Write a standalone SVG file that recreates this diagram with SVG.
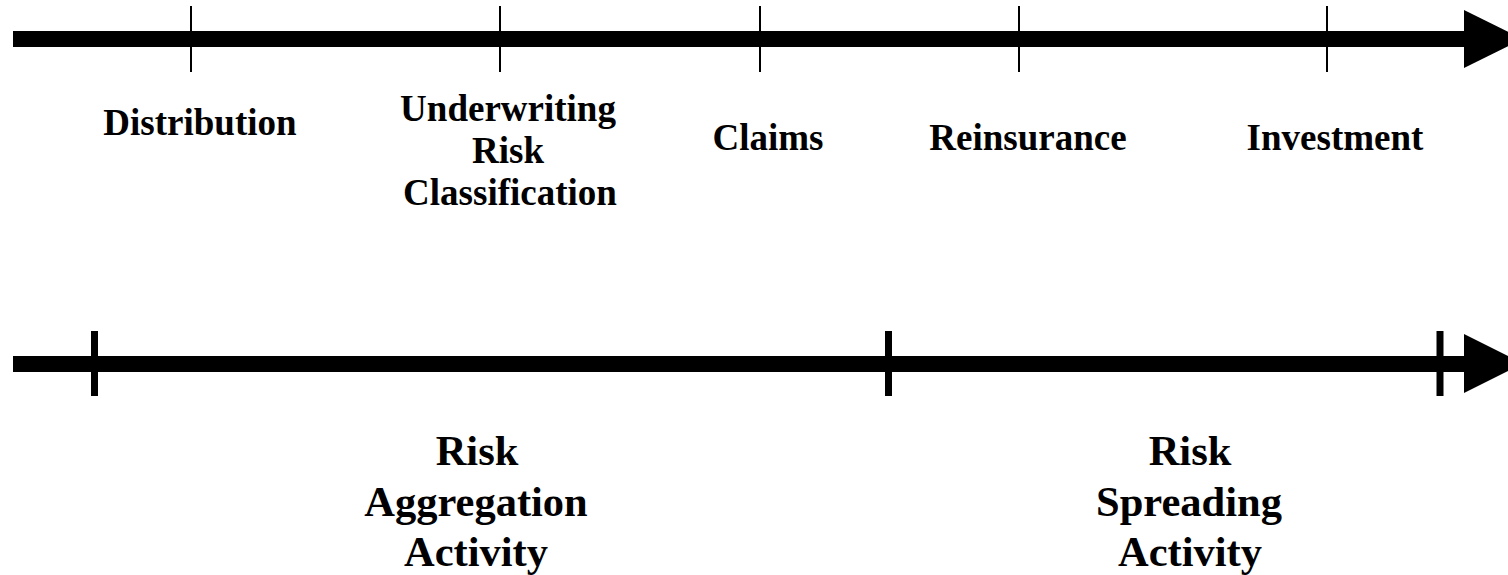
<svg xmlns="http://www.w3.org/2000/svg" width="1508" height="575" viewBox="0 0 1508 575">
  <style>
    text { font-family: 'Liberation Serif', 'DejaVu Serif', serif; font-weight: 700; fill: #000; text-anchor: middle; }
    .lbl { font-size: 37px; }
    .big { font-size: 42.5px; }
    .thin { stroke: #000; stroke-width: 2; }
    .thick { stroke: #000; stroke-width: 7; }
  </style>
  <rect width="1508" height="575" fill="#fff"/>
  <g id="connectors">
    <g id="top-axis">
      <rect x="13" y="31" width="1452" height="16" fill="#000"/>
      <polygon points="1464,10 1464,68 1523,39" fill="#000"/>
      <line class="thin" x1="191" y1="6" x2="191" y2="72"/>
      <line class="thin" x1="500" y1="6" x2="500" y2="72"/>
      <line class="thin" x1="760" y1="6" x2="760" y2="72"/>
      <line class="thin" x1="1019" y1="6" x2="1019" y2="72"/>
      <line class="thin" x1="1327" y1="6" x2="1327" y2="72"/>
    </g>
    <g id="bottom-axis">
      <rect x="13" y="356" width="1452" height="16" fill="#000"/>
      <polygon points="1464,334 1464,393 1523,363.5" fill="#000"/>
      <line class="thick" x1="94.5" y1="331" x2="94.5" y2="396"/>
      <line class="thick" x1="888.5" y1="331" x2="888.5" y2="396"/>
      <line class="thick" x1="1440" y1="331" x2="1440" y2="396"/>
    </g>
  </g>
  <g id="distribution"><text class="lbl" x="200" y="135" font-family="Liberation Serif, serif">Distribution</text></g>
  <g id="underwriting">
    <text class="lbl" x="508" y="121" font-family="Liberation Serif, serif">Underwriting</text>
    <text class="lbl" x="508" y="163" font-family="Liberation Serif, serif">Risk</text>
    <text class="lbl" x="510" y="205" font-family="Liberation Serif, serif">Classification</text>
  </g>
  <g id="claims"><text class="lbl" x="768" y="150" font-family="Liberation Serif, serif">Claims</text></g>
  <g id="reinsurance"><text class="lbl" x="1028" y="150" font-family="Liberation Serif, serif">Reinsurance</text></g>
  <g id="investment"><text class="lbl" x="1335" y="150" font-family="Liberation Serif, serif">Investment</text></g>
  <g id="risk-aggregation">
    <text class="big" x="477" y="465" font-family="Liberation Serif, serif">Risk</text>
    <text class="big" x="476" y="516" font-family="Liberation Serif, serif">Aggregation</text>
    <text class="big" x="476" y="566" font-family="Liberation Serif, serif">Activity</text>
  </g>
  <g id="risk-spreading">
    <text class="big" x="1190" y="465" font-family="Liberation Serif, serif">Risk</text>
    <text class="big" x="1189" y="516" font-family="Liberation Serif, serif">Spreading</text>
    <text class="big" x="1190" y="566" font-family="Liberation Serif, serif">Activity</text>
  </g>
</svg>
